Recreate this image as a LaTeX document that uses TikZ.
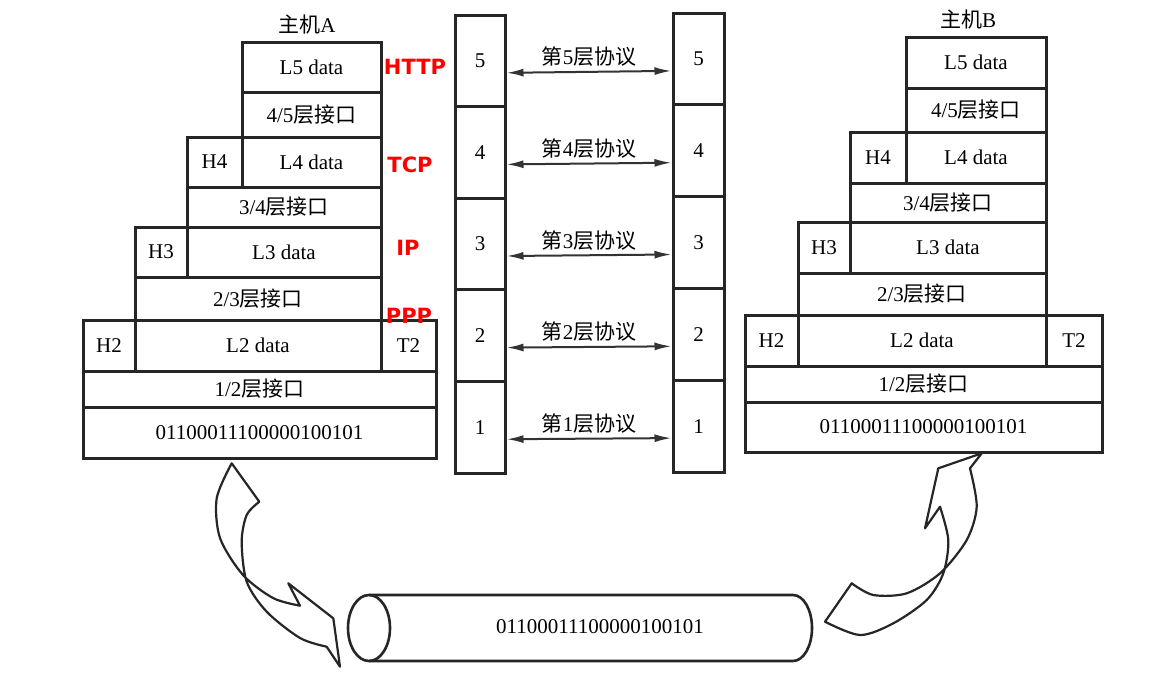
\documentclass[tikz,border=0pt]{standalone}
\usepackage{fontspec}
\setmainfont{Liberation Serif}
\newfontfamily\cjk{Noto Sans CJK SC}
\newfontfamily\tagfont{DejaVu Sans}
\usepackage{tikz}
\usetikzlibrary{arrows.meta,positioning}
\newcommand{\zh}[1]{{\cjk #1}}
\begin{document}
\begin{tikzpicture}[x=1pt,y=-1pt,
    cell/.style={draw=black!85, line width=3pt, inner sep=0pt, font=\fontsize{21}{24}\selectfont},
    layer/.style={cell, minimum width=50pt, minimum height=91.6pt},
    proto/.style={draw=black!80, line width=2pt, {Latex[length=17pt,width=8pt]}-{Latex[length=17pt,width=8pt]}},
    flow/.style={draw=black!85, line width=2.2pt, line join=round},
    tag/.style={text=red, font=\tagfont\bfseries\fontsize{21}{24}\selectfont, inner sep=0pt},
    title/.style={font=\fontsize{21}{24}\selectfont, inner sep=0pt}]
    \useasboundingbox[fill=white] (0,0) rectangle (1169,691);
    % host A
    \node[title] (hostA) at (307,25) {\zh{主机}A};
    \node[cell, minimum width=139pt, minimum height=50pt] (AL5) at (311.5,67) {L5 data};
    \node[cell, minimum width=139pt, minimum height=45pt] (AI45) at (311.5,114.5) {4/5\zh{层接口}};
    \node[cell, minimum width=55pt, minimum height=50pt] (AH4) at (214.5,162) {H4};
    \node[cell, minimum width=139pt, minimum height=50pt] (AL4) at (311.5,162) {L4 data};
    \node[cell, minimum width=194pt, minimum height=40pt] (AI34) at (284,207) {3/4\zh{层接口}};
    \node[cell, minimum width=52pt, minimum height=50pt] (AH3) at (161,252) {H3};
    \node[cell, minimum width=194pt, minimum height=50pt] (AL3) at (284,252) {L3 data};
    \node[cell, minimum width=246pt, minimum height=43pt] (AI23) at (258,298.5) {2/3\zh{层接口}};
    \node[cell, minimum width=52pt, minimum height=51pt] (AH2) at (109,345.5) {H2};
    \node[cell, minimum width=246pt, minimum height=51pt] (AL2) at (258,345.5) {L2 data};
    \node[cell, minimum width=55pt, minimum height=51pt] (AT2) at (408.5,345.5) {T2};
    \node[cell, minimum width=353pt, minimum height=36pt] (AI12) at (259.5,389) {1/2\zh{层接口}};
    \node[cell, minimum width=353pt, minimum height=51pt] (Abits) at (259.5,432.5) {01100011100000100101};
    % protocols used at host A
    \node[tag] (http) at (415,67) {HTTP};
    \node[tag] (tcp) at (410,165) {TCP};
    \node[tag] (ip) at (408,248) {IP};
    \node[tag] (ppp) at (409,316) {PPP};
    % host B
    \node[title] (hostB) at (968,20) {\zh{主机}B};
    \node[cell, minimum width=140pt, minimum height=51pt] (BL5) at (976,62.5) {L5 data};
    \node[cell, minimum width=140pt, minimum height=44pt] (BI45) at (976,110) {4/5\zh{层接口}};
    \node[cell, minimum width=56pt, minimum height=51pt] (BH4) at (878,157.5) {H4};
    \node[cell, minimum width=140pt, minimum height=51pt] (BL4) at (976,157.5) {L4 data};
    \node[cell, minimum width=196pt, minimum height=39pt] (BI34) at (948,202.5) {3/4\zh{层接口}};
    \node[cell, minimum width=52pt, minimum height=51pt] (BH3) at (824,247.5) {H3};
    \node[cell, minimum width=196pt, minimum height=51pt] (BL3) at (948,247.5) {L3 data};
    \node[cell, minimum width=248pt, minimum height=42pt] (BI23) at (922,294) {2/3\zh{层接口}};
    \node[cell, minimum width=53pt, minimum height=51pt] (BH2) at (771.5,340.5) {H2};
    \node[cell, minimum width=248pt, minimum height=51pt] (BL2) at (922,340.5) {L2 data};
    \node[cell, minimum width=56pt, minimum height=51pt] (BT2) at (1074,340.5) {T2};
    \node[cell, minimum width=357pt, minimum height=36pt] (BI12) at (923.5,384) {1/2\zh{层接口}};
    \node[cell, minimum width=357pt, minimum height=50pt] (Bbits) at (923.5,427) {01100011100000100101};
    % peer layers
    \foreach \n in {1,...,5}{
        \node[layer] (L\n) at (480,{473-(\n-0.5)*91.6}) {\n};
        \node[layer, minimum width=51pt, minimum height=91.8pt] (R\n) at (698.5,{472-(\n-0.5)*91.8}) {\n};
        \draw[proto] ([yshift=-12pt]L\n.east) -- node[above=1pt, font=\fontsize{21}{24}\selectfont]{\zh{第}\n\zh{层协议}} ([yshift=-12pt]R\n.west);
    }
    % medium
    \draw[flow, line width=2.6pt] (369,628) ellipse [x radius=21, y radius=33];
    \draw[flow, line width=2.6pt] (369,595) -- (793,595) arc[start angle=-90, end angle=90, x radius=19, y radius=33] -- (369,661);
    \node[font=\fontsize{21}{24}\selectfont] (cable) at (600,627) {01100011100000100101};
    % down to the medium
    \draw[flow] plot[smooth] coordinates {(231.7,463.3) (216.7,498.3) (220,538) (243,575) (273,598) (300,605.7)}
        -- (288.3,583.3) -- (333.3,618.3) -- (340,666.7)
        -- plot[smooth] coordinates {(326.7,646.7) (300,638) (266.7,611.7) (246.7,581.7) (241.7,541.7) (246.7,515) (259.3,501.7)}
        -- cycle;
    % up from the medium
    \draw[flow] (981.7,453.3) -- (938.3,468.3) -- (925,528.3)
        -- plot[smooth] coordinates {(940,506.7) (948.3,540) (943.3,573.3) (926.7,600) (893.3,623.3) (860,635) (825,621.7)}
        -- plot[smooth] coordinates {(851.7,583.3) (873.3,595) (906.7,593.3) (940,573.3) (966.7,540) (976.7,506.7) (970,468.3)}
        -- cycle;
\end{tikzpicture}
\end{document}
